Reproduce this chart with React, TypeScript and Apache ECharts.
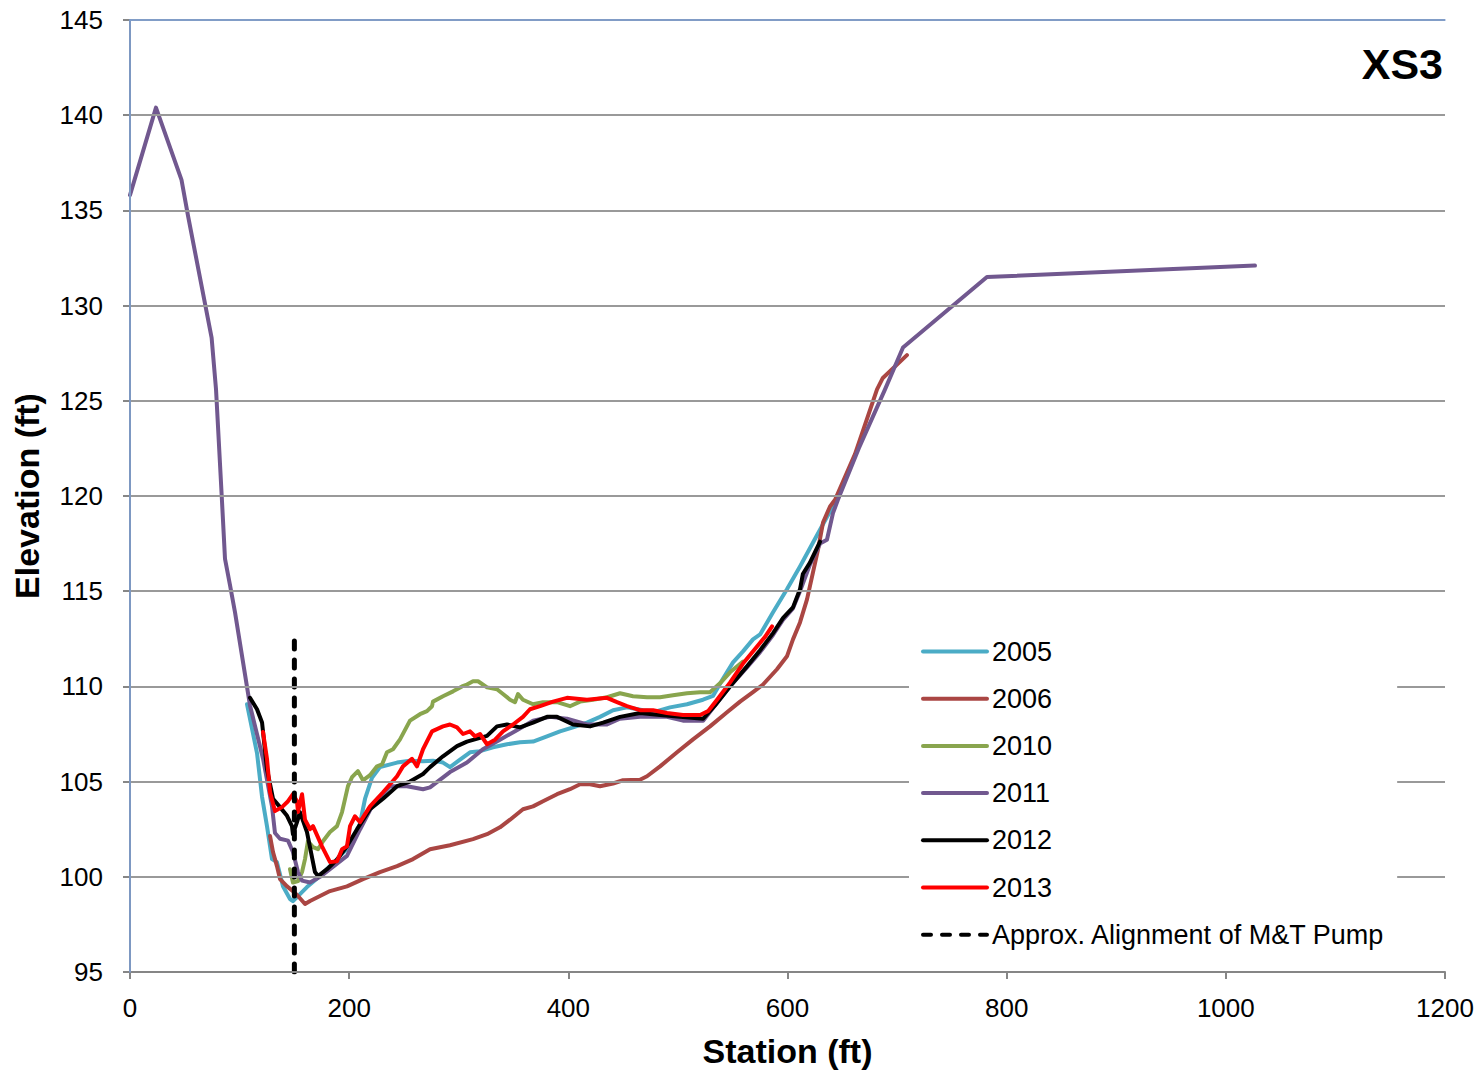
import React, { useEffect, useRef } from "react";
import * as echarts from "echarts";

const xTicks = [0, 200, 400, 600, 800, 1000, 1200];
const yTicks = [95, 100, 105, 110, 115, 120, 125, 130, 135, 140, 145];

const s2005: number[][] = [
  [106.8, 109.06], [115.9, 106.5], [120.5, 104.2], [125, 102.66], [129.6, 100.93], [134.1, 100.77],
  [139.6, 99.5], [146, 98.83], [148.7, 98.72], [153.3, 98.99], [161.5, 99.46], [173.4, 100.04],
  [188.9, 100.93], [203.5, 101.8], [209.9, 102.8], [214.5, 104.1], [220.8, 105.2], [228.1, 105.76],
  [243.7, 106.0], [255.5, 106.1], [267.4, 106.07], [276.5, 106.1], [285.6, 106.0], [292, 105.76],
  [299.3, 106.07], [310.3, 106.54], [319.4, 106.6], [331.3, 106.8], [344, 106.96], [355.9, 107.07],
  [367.8, 107.1], [380.5, 107.38], [392.4, 107.64], [404.3, 107.85], [417, 108.1], [428.9, 108.4],
  [440.8, 108.75], [453.5, 108.9], [468.2, 108.75], [480.9, 108.7], [492.8, 108.9], [508.3, 109.06],
  [522.9, 109.3], [532, 109.5], [541.1, 110.4], [550.3, 111.26], [559.4, 111.84], [568.5, 112.47],
  [575, 112.73], [586.8, 113.9], [599.5, 115.1], [611.4, 116.3], [623.3, 117.56], [636, 118.9],
  [645.2, 119.8],
];

const s2006: number[][] = [
  [127.8, 102.14], [130.5, 101.3], [134.1, 100.56], [136.9, 99.88], [143.3, 99.5], [148.7, 99.25],
  [153.3, 98.99], [159.7, 98.57], [164.3, 98.73], [173.4, 98.99], [182.5, 99.25], [198, 99.5],
  [212.6, 99.88], [228.1, 100.25], [243.7, 100.56], [258.3, 100.93], [273.8, 101.45], [292, 101.66],
  [313, 101.98], [325.8, 102.24], [337.6, 102.6], [346.8, 103.0], [358.6, 103.55], [367.8, 103.7],
  [376.9, 103.97], [389.7, 104.34], [401.5, 104.6], [410.7, 104.86], [419.8, 104.86], [428.9, 104.76],
  [440.8, 104.9], [449.9, 105.07], [465.4, 105.1], [471.8, 105.28], [483.7, 105.8], [499.2, 106.54],
  [513.8, 107.22], [529.3, 107.9], [544.8, 108.64], [556.7, 109.2], [568.5, 109.7], [577.7, 110.1],
  [590.4, 110.9], [599.5, 111.58], [605, 112.47], [611.4, 113.36], [617.8, 114.57], [623.3, 116.0],
  [627.9, 117.2], [632.4, 118.6], [638.8, 119.45], [643.4, 119.8], [661.6, 122.2], [681.7, 125.6],
  [687, 126.2], [709, 127.4],
];

const s2010: number[][] = [
  [146, 100.4], [148.7, 99.7], [153.3, 99.77], [157, 100.25], [159.7, 100.93], [162.4, 101.87],
  [167, 101.56], [171.6, 101.45], [176.1, 101.87], [182.5, 102.35], [188.9, 102.66], [193.5, 103.4],
  [196.2, 104.08], [198.9, 104.76], [202.6, 105.23], [208, 105.55], [212.6, 105.07], [219, 105.34],
  [225.4, 105.8], [230, 105.9], [234.5, 106.54], [240, 106.7], [246.4, 107.22], [255.5, 108.2],
  [264.6, 108.54], [271, 108.7], [275.6, 108.96], [276.5, 109.2], [285.6, 109.48], [294.8, 109.74],
  [303, 110.0], [307.5, 110.1], [313, 110.27], [317.6, 110.27], [325.8, 109.95], [334.9, 109.85],
  [340.4, 109.6], [346.8, 109.3], [351.3, 109.17], [354.1, 109.6], [358.6, 109.3], [367.8, 109.06],
  [376.9, 109.17], [389.7, 109.17], [401.5, 108.96], [410.7, 109.2], [422.5, 109.3], [435.3, 109.43],
  [447.2, 109.64], [459, 109.48], [471.8, 109.43], [483.7, 109.43], [495.5, 109.53], [508.3, 109.64],
  [520.2, 109.69], [529.3, 109.69], [538.4, 110.16], [547.5, 110.74], [559.4, 111.3],
];

const s2011: number[][] = [
  [0, 135.8], [23.7, 140.4], [47, 136.6], [53, 134.7], [74.5, 128.3], [78.5, 125.6], [83.7, 120.0],
  [86.7, 116.7], [91.3, 115.3], [95.8, 113.9], [109.5, 109.0], [121.4, 106.2], [129.6, 103.7],
  [132.3, 102.3], [136.9, 102.0], [144.2, 101.9], [148.7, 101.3], [153.3, 100.25], [157, 99.8],
  [164.3, 99.7], [173.4, 100.0], [182.5, 100.4], [198, 101.1], [210, 102.5], [221.8, 103.8],
  [237.3, 104.76], [252.8, 104.76], [267.4, 104.6], [273.8, 104.7], [292, 105.5], [307.5, 106.0],
  [322, 106.7], [337.6, 107.2], [353, 107.7], [367.8, 108.2], [383.3, 108.4], [398.8, 108.3],
  [417, 108.0], [435.3, 108.0], [447, 108.3], [465.4, 108.4], [490, 108.4], [504.6, 108.2],
  [523, 108.2], [533.8, 109.0], [547.5, 110.0], [563, 111.0], [575, 111.8], [586.8, 112.7],
  [596, 113.5], [605, 114.1], [611.4, 115.0], [620.5, 116.4], [629.7, 117.5], [636, 117.7],
  [641.5, 119.1], [646, 119.8], [665, 122.5], [689, 125.6], [705.4, 127.8], [782, 131.5],
  [1026.6, 132.1],
];

const s2012: number[][] = [
  [109.5, 109.4], [115.9, 108.8], [120.5, 108.1], [125, 105.65], [130.5, 104.1], [136.9, 103.66],
  [143.3, 103.2], [147.8, 102.66], [148.7, 102.24], [152.4, 102.87], [155.1, 103.4], [161.5, 102.35],
  [168.8, 100.25], [171.6, 100.04], [179.8, 100.4], [188.9, 100.9], [198, 101.6], [207.2, 102.5],
  [219, 103.55], [230.9, 104.1], [243.7, 104.76], [255.5, 105.0], [267.4, 105.4], [273.8, 105.76],
  [285.6, 106.33], [298.4, 106.86], [307.5, 107.1], [325.8, 107.4], [334.9, 107.9], [344, 108.0],
  [355.9, 107.85], [367.8, 108.1], [380.5, 108.4], [389.7, 108.4], [404.3, 108.0], [419.8, 107.9],
  [431.7, 108.1], [447.2, 108.4], [465.4, 108.6], [483.7, 108.5], [501.9, 108.4], [523, 108.3],
  [533.8, 109.0], [547.5, 110.0], [563, 111.05], [575, 111.9], [586.8, 112.8], [596, 113.6],
  [605, 114.15], [611.4, 115.1], [614, 115.9], [620.5, 116.5], [629.7, 117.6],
];

const s2013: number[][] = [
  [121.4, 107.6], [125, 106.2], [127.8, 104.44], [132.3, 103.45], [138.7, 103.66], [144.2, 103.97],
  [148.7, 104.34], [152.4, 103.97], [153.3, 103.4], [157, 104.34], [159.7, 103.0], [164.3, 102.5],
  [167, 102.66], [175.2, 101.6], [182.5, 100.77], [188.9, 100.82], [193.5, 101.45], [198, 101.6],
  [200.8, 102.66], [205.3, 103.18], [209.9, 102.87], [219, 103.7], [230.9, 104.44], [243.7, 105.28],
  [249.1, 105.8], [257.3, 106.2], [261.9, 105.8], [267.4, 106.7], [275.6, 107.64], [285.6, 107.9],
  [292, 108.0], [298.4, 107.85], [303.9, 107.5], [310.3, 107.64], [314.8, 107.38], [319.4, 107.5],
  [325.8, 106.96], [333.1, 107.2], [340.4, 107.64], [349.5, 108.0], [358.6, 108.4], [365, 108.8],
  [374.2, 108.96], [386, 109.2], [398.8, 109.4], [417, 109.3], [435.3, 109.4], [444.4, 109.17],
  [453.5, 108.96], [465.4, 108.75], [477.3, 108.75], [490, 108.6], [504.6, 108.5], [520.2, 108.5],
  [527.5, 108.7], [535.7, 109.3], [547.5, 110.2], [559.4, 111.2], [572.2, 112.1], [579.5, 112.6],
  [585.9, 113.15],
];

const pump: number[][] = [[150, 95], [150, 112.5]];

const FONT = "'Liberation Sans', Arial, sans-serif";

export default function App() {
  const ref = useRef<HTMLDivElement>(null);
  useEffect(() => {
    document.body.style.margin = "0";
    const chart = echarts.init(ref.current!, undefined, { renderer: "svg" });
    const line = (name: string, data: number[][], color: string, width = 4, type: any = "solid", cap: any = "round") => ({
      name,
      type: "line",
      data,
      showSymbol: false,
      symbol: "none",
      symbolSize: 0,
      smooth: false,
      lineStyle: { color, width, type, cap, join: "round" },
      itemStyle: { color },
    });
    chart.setOption({
      animation: false,
      backgroundColor: "#ffffff",
      textStyle: { fontFamily: FONT },
      grid: { left: 130, right: 33, top: 20, bottom: 100, show: false },
      xAxis: [
        {
          type: "value",
          min: 0,
          max: 1200,
          interval: 200,
          name: "Station (ft)",
          nameLocation: "middle",
          nameGap: 62,
          nameTextStyle: { fontSize: 34, fontWeight: "bold", color: "#000", fontFamily: FONT },
          axisLine: { show: true, lineStyle: { color: "#868686", width: 2 } },
          axisTick: { show: true, inside: false, length: 7, lineStyle: { color: "#868686", width: 2 } },
          axisLabel: { fontSize: 26, color: "#000", margin: 23, fontFamily: FONT, formatter: (v: number) => (xTicks.includes(v) ? String(v) : "") },
          splitLine: { show: false },
          z: 4,
        },
        {
          type: "value",
          position: "top",
          min: 0,
          max: 1200,
          axisLine: { show: true, lineStyle: { color: "#7a9ed6", width: 1.5 } },
          axisTick: { show: false },
          axisLabel: { show: false },
          splitLine: { show: false },
          z: 5,
        },
      ],
      yAxis: [
        {
          type: "value",
          min: 95,
          max: 145,
          interval: 5,
          name: "Elevation (ft)",
          nameLocation: "middle",
          nameGap: 86,
          nameTextStyle: { fontSize: 34, fontWeight: "bold", color: "#000", fontFamily: FONT },
          axisLine: { show: true, lineStyle: { color: "#868686", width: 2 } },
          axisTick: { show: true, inside: false, length: 7, lineStyle: { color: "#868686", width: 2 } },
          axisLabel: { fontSize: 26, color: "#000", margin: 27, fontFamily: FONT, formatter: (v: number) => (yTicks.includes(v) ? String(v) : "") },
          splitLine: { show: true, lineStyle: { color: "#999999", width: 2 } },
          z: 4,
        },
        {
          type: "value",
          position: "right",
          min: 95,
          max: 145,
          interval: 5,
          axisLine: { show: true, lineStyle: { color: "#7a9ed6", width: 1.5 } },
          axisTick: { show: false },
          axisLabel: { show: false },
          splitLine: { show: false },
          z: 5,
        },
      ],
      legend: {
        orient: "vertical",
        left: 909,
        top: 626,
        padding: [12, 12, 12, 12],
        backgroundColor: "#ffffff",
        itemWidth: 64,
        itemHeight: 14,
        itemGap: 20.2,
        itemStyle: { opacity: 0 },
        lineStyle: { width: 4 },
        textStyle: { fontSize: 27, color: "#000", fontFamily: FONT, padding: [0, 0, 0, 0] },
        data: ["2005", "2006", "2010", "2011", "2012", "2013", "Approx. Alignment of M&T Pump"],
        selectedMode: false,
        z: 6,
      },
      graphic: [
        {
          type: "text",
          right: 35,
          top: 42,
          style: { text: "XS3", fontSize: 43, fontWeight: "bold", fill: "#000", fontFamily: FONT },
          z: 10,
        },
      ],
      series: [
        line("2005", s2005, "#4bacc6"),
        line("2006", s2006, "#aa4643"),
        line("2010", s2010, "#89a54e"),
        line("2011", s2011, "#71588f"),
        line("2012", s2012, "#000000"),
        line("2013", s2013, "#ff0000"),
        line("Approx. Alignment of M&T Pump", pump, "#000000", 5, [8, 11], "round"),
      ],
    });
    return () => chart.dispose();
  }, []);
  return <div ref={ref} style={{ position: "fixed", left: 0, top: 0, width: 1478, height: 1073 }} />;
}
